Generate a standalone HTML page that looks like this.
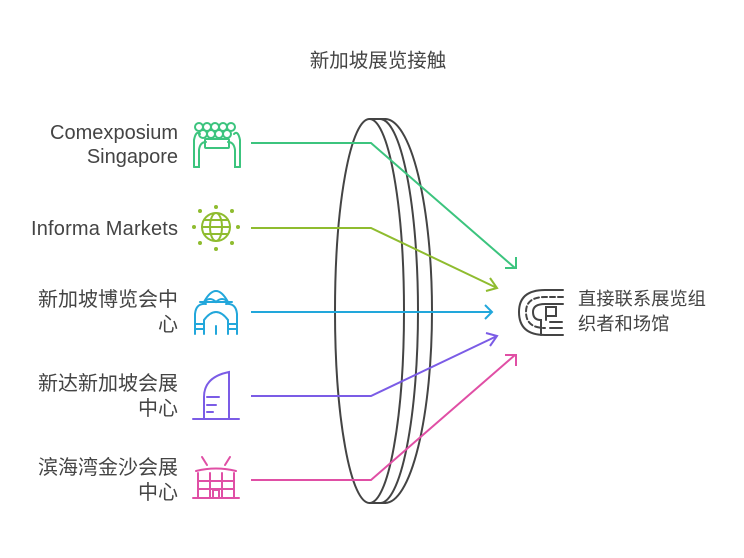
<!DOCTYPE html>
<html><head><meta charset="utf-8"><style>
body{margin:0;background:#fff;}
svg text{font-family:"Liberation Sans","Noto Sans CJK SC",sans-serif;fill:#444;font-size:20px;}
</style></head><body>
<svg width="744" height="553" viewBox="0 0 744 553" xmlns="http://www.w3.org/2000/svg">
<text x="378" y="67" text-anchor="middle" style="font-size:19.5px">新加坡展览接触</text>
<!-- lens -->
<g fill="none" stroke="#444" stroke-width="2">
<path d="M385 119 A47 192 0 0 1 385 503"/>
<path d="M380 119 A38 192 0 0 1 380 503"/>
<line x1="369" y1="119" x2="386" y2="119"/>
<line x1="369" y1="503" x2="386" y2="503"/>
<ellipse cx="369.5" cy="311" rx="34.5" ry="192" fill="#fff"/>
</g>
<!-- connectors -->
<g fill="none" stroke-width="2">
<path d="M251 143 H371 L515 268" stroke="#3cc47e"/>
<path d="M505 268 H516 V257" stroke="#3cc47e"/>
<path d="M251 228 H371 L497 288" stroke="#8fbc2f"/>
<path d="M486 291 L497 288 L490 278" stroke="#8fbc2f"/>
<path d="M251 312 H492" stroke="#22a7db"/>
<path d="M485 305 L492 312 L485 319" stroke="#22a7db"/>
<path d="M251 396 H371 L497 336" stroke="#7b5ce6"/>
<path d="M490 346 L497 336 L486 333" stroke="#7b5ce6"/>
<path d="M251 480 H371 L515 355" stroke="#e04fa5"/>
<path d="M505 355 H516 V366" stroke="#e04fa5"/>
</g>
<!-- left labels -->
<text x="178" y="139" text-anchor="end" textLength="128">Comexposium</text>
<text x="178" y="163" text-anchor="end">Singapore</text>
<text x="178" y="235" text-anchor="end" textLength="147">Informa Markets</text>
<text x="178" y="306" text-anchor="end">新加坡博览会中</text>
<text x="178" y="331" text-anchor="end">心</text>
<text x="178" y="390" text-anchor="end">新达新加坡会展</text>
<text x="178" y="415" text-anchor="end">中心</text>
<text x="178" y="474" text-anchor="end">滨海湾金沙会展</text>
<text x="178" y="499" text-anchor="end">中心</text>
<!-- icons -->
<g fill="none" stroke-width="2" stroke-linecap="round">
<g stroke="#3cc47e">
<circle cx="199" cy="127" r="4"/><circle cx="207" cy="127" r="4"/><circle cx="215" cy="127" r="4"/><circle cx="223" cy="127" r="4"/><circle cx="231" cy="127" r="4"/>
<circle cx="203" cy="134" r="4"/><circle cx="211" cy="134" r="4"/><circle cx="219" cy="134" r="4"/><circle cx="227" cy="134" r="4"/>
<path d="M194 167 V140 Q196 130 200 134"/><path d="M240 167 V140 Q238 130 234 134"/>
<path d="M194 167 H199 V150 Q200 142 206 142"/><path d="M240 167 H235 V150 Q234 142 228 142"/>
<rect x="205" y="139" width="24" height="9" rx="1"/>
</g>
<g stroke="#8fbc2f">
<circle cx="216" cy="227" r="14"/><ellipse cx="216" cy="227" rx="6" ry="14"/><path d="M202 227 H230 M204 220 H228 M204 234 H228"/>
</g>
<g fill="#8fbc2f"><circle cx="216" cy="207" r="2"/><circle cx="216" cy="249" r="2"/><circle cx="194" cy="227" r="2"/><circle cx="238" cy="227" r="2"/><circle cx="200" cy="211" r="2"/><circle cx="232" cy="211" r="2"/><circle cx="200" cy="243" r="2"/><circle cx="232" cy="243" r="2"/></g>
<g stroke="#22a7db">
<path d="M204 302 Q216 280 228 302 M200 302 H232 M204 302 Q210 296 216 302 Q222 296 228 302"/>
<path d="M195 334 V314 Q196 303 206 304 M237 334 V314 Q236 303 226 304"/>
<path d="M204 334 V320 Q216 304 228 320 V334 M216 326 V334 M195 324 H204 M228 324 H237 M195 329 H204 M228 329 H237"/>
</g>
<g stroke="#7b5ce6">
<path d="M193 419 H239 M204 419 V397 Q204 377 229 372 V419 M207 397 H219 M207 405 H216 M207 412 H213"/>
</g>
<g stroke="#e04fa5">
<path d="M202 457 L207 465 M230 457 L225 465"/>
<path d="M196 471 Q216 466 236 471 M198 473 V498 M234 473 V498 M193 498 H239 M198 481 H234 M198 489 H234 M210 473 V498 M222 473 V498 M213 498 V490 H219 V498"/>
</g>
<g stroke="#444">
<path d="M563 290 H545 Q519 290 519 312 Q519 335 545 335 H563"/>
<path d="M563 297 H545 Q526 297 526 312 Q526 328 545 328" stroke-dasharray="5 3"/>
<path d="M563 304 H545 Q533 304 533 312 Q533 320 541 320 V335"/>
<path d="M546 320 V307 H556 V316 H546 M550 322 H562 M550 328 H562"/>
</g>
</g>
<text x="578" y="305" style="font-size:18.3px">直接联系展览组</text>
<text x="578" y="330" style="font-size:18.3px">织者和场馆</text>
</svg>
</body></html>
